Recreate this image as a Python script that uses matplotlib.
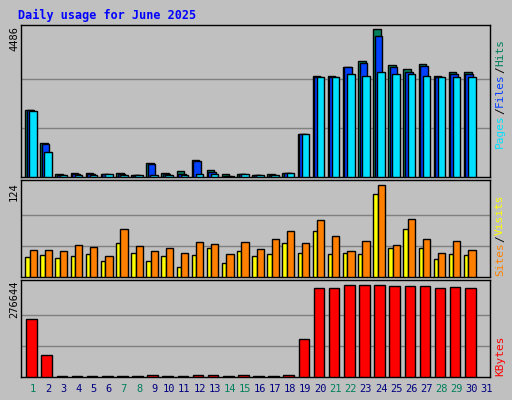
import matplotlib
matplotlib.use("Agg")
import matplotlib.pyplot as plt
import numpy as np

days = list(range(1, 32))
hits = [2050,1045,100,132,132,100,132,71,436,132,172,528,223,100,100,71,100,132,1319,
        3085,3085,3359,3512,4486,3390,3268,3420,3085,3207,3177]
files = [2030,1015,71,101,101,101,101,71,406,101,101,497,162,41,101,71,71,132,1319,
         3055,3055,3329,3451,4273,3329,3207,3360,3055,3146,3116]
pages = [2020,771,71,71,71,101,71,71,71,71,71,101,101,41,101,71,71,132,1319,
         3055,3055,3116,3085,3207,3116,3116,3085,3025,3055,3025]
sites = [27,30,26,28,31,21,46,32,21,28,13,30,39,19,35,28,31,46,32,62,31,32,31,111,39,64,39,24,31,30]
visits = [36,36,35,43,40,28,64,42,35,39,32,47,44,31,47,38,51,62,46,77,55,35,48,124,43,78,51,32,48,36]
kbytes = [173650,64614,3000,3000,3000,3000,3000,3000,7000,3000,3000,7000,7000,3000,7000,3000,3000,7000,
          113075,267544,267544,276644,276644,276644,273600,273600,273600,267544,270570,267544]
weekend = {1,7,8,14,15,21,22,28,29}

W, H = 512, 400
fig = plt.figure(figsize=(W/100, H/100), dpi=100, facecolor="#C0C0C0")
mono = "DejaVu Sans Mono"

def ax_at(x0, y0, x1, y1):
    return fig.add_axes([x0/W, 1-y1/H, (x1-x0)/W, (y1-y0)/H])

n = len(hits)
x = np.arange(1, n+1)

def style(ax, mx, top):
    ax.set_facecolor("#C0C0C0")
    ax.set_xlim(0.5, 31.5)
    ax.set_ylim(0, mx*top)
    for g in (mx/3, 2*mx/3):
        ax.axhline(g, color="#808080", lw=1, zorder=0)
    ax.set_xticks([]); ax.set_yticks([])
    for s in ax.spines.values():
        s.set_color("black"); s.set_linewidth(1)

kw = dict(edgecolor="black", linewidth=1, align="edge", zorder=3)
a1 = ax_at(21, 25, 490, 177)
style(a1, max(hits), 1.03)
a1.bar(x-0.22, hits, 0.5, color="#00805c", **kw)
a1.bar(x-0.12, files, 0.5, color="#0040ff", **kw)
a1.bar(x+0.05, pages, 0.5, color="#00e0ff", **kw)

a2 = ax_at(21, 180, 490, 277)
style(a2, max(visits), 1.05)
a2.bar(x-0.22, sites, 0.29, color="#ffff00", **kw)
a2.bar(x+0.07, visits, 0.48, color="#ff8000", **kw)

a3 = ax_at(21, 280, 490, 377)
style(a3, max(kbytes), 1.05)
a3.bar(x-0.15, kbytes, 0.7, color="#ff0000", **kw)

fig.text(18/W, 1-15/H, "Daily usage for June 2025", color="#0000ff", fontsize=8.5,
         fontweight="bold", family=mono, va="center", ha="left")

for d in days:
    xp = 21 + (d - 0.5 + 0.3) * (469/31)
    fig.text(xp/W, 1-389/H, str(d), fontsize=7.5, family=mono, ha="center", va="center",
             color="#00805c" if d in weekend else "#000080")

def left(label, ytop):
    fig.text(14/W, 1-ytop/H, label, rotation=90, fontsize=7.5, family=mono, ha="center", va="top")
left(str(max(hits)), 26)
left(str(max(visits)), 182)
left(str(max(kbytes)), 281)

def right(parts, ybot):
    y = ybot
    cw = 6.8
    for txt, col in parts:
        fig.text(500/W, 1-y/H, txt, rotation=90, fontsize=8, family=mono, color=col,
                 ha="center", va="bottom")
        y -= cw*len(txt)
right([("Pages", "#00e0ff"), ("/", "black"), ("Files", "#0040ff"), ("/", "black"), ("Hits", "#00805c")], 148)
right([("Sites", "#ff8000"), ("/", "black"), ("Visits", "#ffff00")], 276)
right([("KBytes", "#ff0000")], 376)

fig.savefig("out.png", dpi=100, facecolor=fig.get_facecolor())
